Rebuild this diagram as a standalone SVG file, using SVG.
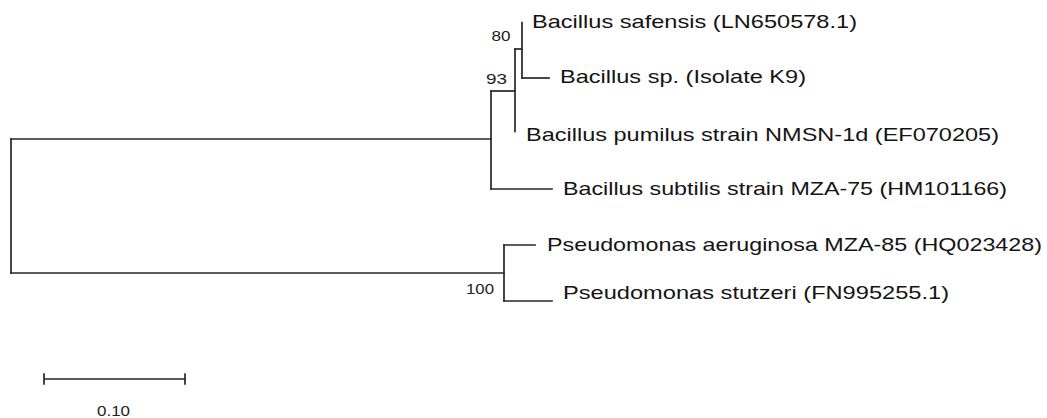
<svg xmlns="http://www.w3.org/2000/svg" width="1047" height="418" viewBox="0 0 1047 418">
  <style>
    .branch { fill: none; stroke: #262626; stroke-width: 1.7; stroke-linecap: square; }
    .taxon { font-family: "Liberation Sans", Arial, sans-serif; font-size: 18.5px; fill: #141414; }
    .support { font-family: "Liberation Sans", Arial, sans-serif; font-size: 14px; fill: #222; }
    .scale { font-family: "Liberation Sans", Arial, sans-serif; font-size: 15px; fill: #222; }
  </style>
  <rect width="1047" height="418" fill="#ffffff"/>

  <!-- branches of the tree -->
  <g id="branches" class="branch">
    <!-- root split -->
    <path d="M11,139 V273"/>
    <path d="M11,139 H491"/>
    <path d="M11,273 H504"/>
    <!-- Bacillus clade -->
    <path d="M491,91 V189"/>
    <path d="M491,91 H515"/>
    <path d="M491,189 H552"/>
    <path d="M515,49 V131.5"/>
    <path d="M515,49 H522"/>
    <path d="M522,22.5 V78"/>
    <path d="M522,78 H549"/>
    <!-- Pseudomonas clade -->
    <path d="M504,245 V301"/>
    <path d="M504,245 H535"/>
    <path d="M504,301 H552"/>
  </g>

  <!-- leaves -->
  <g id="leaf-b-safensis"><text class="taxon" x="532" y="27.5" textLength="325" lengthAdjust="spacingAndGlyphs">Bacillus safensis (LN650578.1)</text></g>
  <g id="leaf-b-sp-k9"><text class="taxon" x="560" y="83" textLength="246" lengthAdjust="spacingAndGlyphs">Bacillus sp. (Isolate K9)</text></g>
  <g id="leaf-b-pumilus"><text class="taxon" x="526" y="140.5" textLength="473" lengthAdjust="spacingAndGlyphs">Bacillus pumilus strain NMSN-1d (EF070205)</text></g>
  <g id="leaf-b-subtilis"><text class="taxon" x="563" y="195" textLength="444" lengthAdjust="spacingAndGlyphs">Bacillus subtilis strain MZA-75 (HM101166)</text></g>
  <g id="leaf-p-aeruginosa"><text class="taxon" x="547" y="251" textLength="495" lengthAdjust="spacingAndGlyphs">Pseudomonas aeruginosa MZA-85 (HQ023428)</text></g>
  <g id="leaf-p-stutzeri"><text class="taxon" x="563" y="298.5" textLength="386" lengthAdjust="spacingAndGlyphs">Pseudomonas stutzeri (FN995255.1)</text></g>

  <!-- bootstrap values -->
  <g id="node-80"><text class="support" x="491.5" y="40.5" textLength="19" lengthAdjust="spacingAndGlyphs">80</text></g>
  <g id="node-93"><text class="support" x="486" y="83.5" textLength="21" lengthAdjust="spacingAndGlyphs">93</text></g>
  <g id="node-100"><text class="support" x="466" y="294" textLength="28" lengthAdjust="spacingAndGlyphs">100</text></g>

  <!-- scale bar -->
  <g id="scale-bar">
    <path class="branch" d="M44,379 H185 M44,374 V384 M185,374 V384"/>
    <text class="scale" x="97" y="416" textLength="33" lengthAdjust="spacingAndGlyphs">0.10</text>
  </g>
</svg>
